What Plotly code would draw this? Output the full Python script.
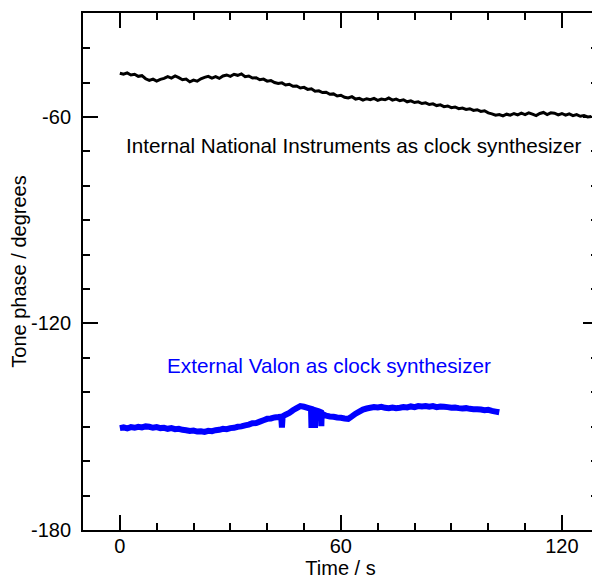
import plotly.graph_objects as go

# Internal National Instruments synthesizer (black), one reading per second
ni_time = list(range(0, 129))
ni_phase = [
    -47.3, -47.6, -47.2, -47.8, -47.6, -48.2, -48.0, -48.9, -49.4, -49.0,
    -49.6, -49.1, -48.8, -48.3, -48.7, -48.1, -48.6, -49.2, -49.0, -49.8,
    -49.3, -49.6, -48.9, -48.5, -48.2, -48.7, -48.3, -48.8, -48.1, -47.8,
    -48.2, -47.6, -47.9, -47.5, -48.3, -48.1, -48.7, -48.6, -49.2, -49.0,
    -49.6, -49.4, -50.0, -50.3, -50.1, -50.7, -50.5, -51.1, -51.0, -51.6,
    -51.4, -52.0, -51.8, -52.5, -52.4, -52.9, -52.8, -53.4, -53.3, -53.9,
    -53.7, -54.3, -54.5, -54.1, -54.8, -54.6, -55.1, -54.7, -55.0, -54.6,
    -55.2, -54.8, -55.0, -54.5, -55.1, -54.8, -55.3, -55.0, -55.6, -55.3,
    -55.8, -55.6, -56.1, -55.9, -56.4, -56.2, -56.7, -56.5, -57.0, -56.8,
    -57.3, -57.1, -57.6, -57.4, -57.8, -57.6, -58.1, -57.9, -58.4, -58.2,
    -58.8, -59.1, -59.5, -59.3, -59.7, -59.2, -59.5, -59.0, -59.4, -58.9,
    -59.3, -58.8, -59.2, -59.6, -59.0, -58.7, -59.3, -58.8, -58.9, -59.4,
    -59.0, -59.5, -59.1, -59.6, -59.3, -59.8, -59.6, -60.0, -59.9,
]

# External Valon synthesizer (blue)
valon_time = (
    list(range(0, 44))
    + [43.8, 44.0, 44.2]
    + [45, 46, 47, 48, 49, 50, 51, 51.9, 52.0, 53.0, 53.1, 54, 54.6, 54.7, 54.8]
    + list(range(55, 104))
)
valon_phase = [
    -150.4, -150.2, -150.5, -150.1, -150.3, -150.0, -150.2, -149.9, -150.0, -150.3,
    -150.1, -150.4, -150.3, -150.6, -150.4, -150.7, -150.6, -150.9, -151.0, -151.2,
    -151.1, -151.4, -151.3, -151.5, -151.2, -151.3, -151.0, -150.9, -150.6, -150.7,
    -150.4, -150.3, -150.0, -149.9, -149.6, -149.4, -149.0, -148.9, -148.5, -148.1,
    -147.7, -147.6, -147.3, -147.2,
    -147.1, -150.2, -147.0,
    -146.5, -146.0, -145.2, -144.6, -144.0, -144.2, -144.5, -144.8, -149.5, -149.5,
    -145.2, -145.5, -145.8, -149.8, -146.0,
    -146.3, -146.8, -147.0, -147.1, -147.3, -147.4, -147.6, -147.7, -147.0, -146.2,
    -145.6, -145.0, -144.7, -144.5, -144.3, -144.4, -144.2, -144.5, -144.6, -144.4,
    -144.6, -144.5, -144.3, -144.4, -144.1, -144.3, -144.0, -144.1, -144.0, -144.2,
    -144.0, -144.3, -144.1, -144.2, -144.3, -144.5, -144.4, -144.6, -144.7, -144.6,
    -144.8, -144.9, -144.9, -145.0, -145.2, -145.1, -145.4, -145.6, -145.8,
]

x_ticks = [0, 60, 120]
y_ticks = [-180, -120, -60]

FONT = "Liberation Sans, Arial, Helvetica, sans-serif"
FS = 20
FS_NOTE = 20.7

fig = go.Figure()
fig.add_trace(go.Scatter(x=ni_time, y=ni_phase, mode="lines",
                         line=dict(color="black", width=3, simplify=False), showlegend=False))
fig.add_trace(go.Scatter(x=valon_time, y=valon_phase, mode="lines",
                         line=dict(color="#0000ff", width=6, simplify=False), showlegend=False))

fig.add_annotation(x=63.4, y=-68.4, xref="x", yref="y", showarrow=False,
                   text="Internal National Instruments as clock synthesizer",
                   font=dict(family=FONT, size=FS_NOTE, color="black"))
fig.add_annotation(x=56.9, y=-132.3, xref="x", yref="y", showarrow=False,
                   text="External Valon as clock synthesizer",
                   font=dict(family=FONT, size=FS_NOTE, color="#0000ff"))

axis_common = dict(
    showline=True, linecolor="black", linewidth=2, mirror="allticks",
    ticks="inside", ticklen=15, tickwidth=2, tickcolor="black",
    showgrid=False, zeroline=False,
    tickfont=dict(family=FONT, size=FS, color="black"),
)

fig.update_xaxes(
    range=[-10, 129.8], tickvals=x_ticks, ticktext=[str(v) for v in x_ticks],
    minor=dict(ticks="inside", ticklen=7, tickwidth=2, tickcolor="black", dtick=10, tick0=0, showgrid=False),
    title=dict(text="Time / s", font=dict(family=FONT, size=FS, color="black"), standoff=3),
    ticklabelstandoff=-3,
    **axis_common,
)
fig.update_yaxes(
    range=[-180, -29.8], tickvals=y_ticks, ticktext=[str(v) for v in y_ticks],
    minor=dict(ticks="inside", ticklen=7, tickwidth=2, tickcolor="black", dtick=10, tick0=-180, showgrid=False),
    title=dict(text="Tone phase / degrees", font=dict(family=FONT, size=FS, color="black"), standoff=14),
    ticklabelstandoff=6,
    **axis_common,
)

# the page adds an 8px body margin, so the figure is drawn 8px smaller
fig.update_layout(
    width=592, height=571,
    margin=dict(l=75, r=2, t=5, b=49, autoexpand=False),
    plot_bgcolor="white", paper_bgcolor="white",
    font=dict(family=FONT, size=FS, color="black"),
)

fig.write_html("out.html")
